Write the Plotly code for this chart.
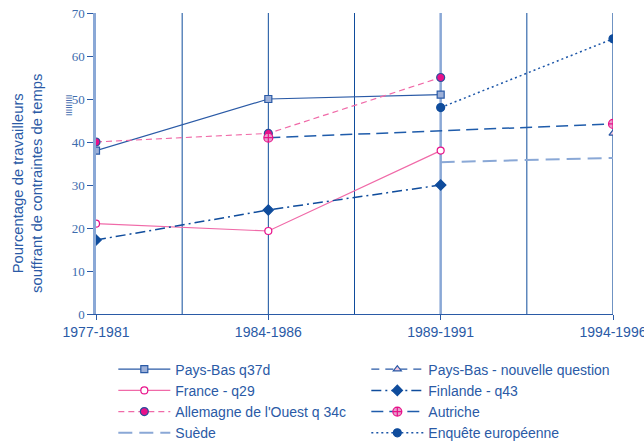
import plotly.graph_objects as go

periods = ["1977-1981", "1984-1986", "1989-1991", "1994-1996"]
xpos = [0, 1, 2, 3]

pays_bas_q37d = [38, 50, 51, None]
pays_bas_nouvelle = [None, None, None, 42]
france_q29 = [21, 19.3, 38, None]
finlande_q43 = [17.2, 24.2, 30, None]
allemagne_q34c = [40, 42, 55, None]
autriche = [None, 41, None, 44.2]
suede = [None, None, 35.3, 36.3]
enquete_europeenne = [None, None, 48, 64]

y_title = "Pourcentage de travailleurs<br>souffrant de contraintes de temps"

BLUE = "#2a5aa6"
DARK = "#0f4c9c"
LIGHT = "#8aa8d6"
PINK = "#f06aa8"
MAGENTA = "#e8118a"

fig = go.Figure()

def add(name, y, color, dash, symbol, msize, mfill, mline, width=1.2, connect=False, mode="lines+markers"):
    fig.add_trace(go.Scatter(
        x=xpos, y=y, name=name, mode=mode, connectgaps=connect,
        line=dict(color=color, dash=dash, width=width),
        marker=dict(symbol=symbol, size=msize, color=mfill, line=dict(color=mline, width=1.2)),
    ))

# row-major legend order
add("Pays-Bas q37d", pays_bas_q37d, BLUE, "solid", "square", 7, "#9db0d8", BLUE)
add("Pays-Bas - nouvelle question", pays_bas_nouvelle, BLUE, "8px,6px", "triangle-up", 7, "#f4c6dc", BLUE)
add("France - q29", france_q29, PINK, "solid", "circle", 7, "white", MAGENTA)
add("Finlande - q43", finlande_q43, DARK, "10px,4px,2px,4px", "diamond", 8, DARK, DARK, 1.5)
add("Allemagne de l'Ouest q 34c", allemagne_q34c, PINK, "6px,4px", "circle", 8, MAGENTA, "#2a4f9c")
add("Autriche", autriche, "#1f5cab", "12px,6px", "circle-cross", 9, "#e6a0cc", MAGENTA, 1.5, True)
add("Suède", suede, LIGHT, "14px,7px", "circle", 1, LIGHT, LIGHT, 2, mode="lines")
add("Enquête européenne", enquete_europeenne, "#1c56a8", "2px,3px", "circle", 8, DARK, DARK, 1.5)

# vertical reference lines
for xv, col, w in [(0.5, DARK, 1), (1, DARK, 1), (1.5, DARK, 1), (2, LIGHT, 2.5), (2.5, DARK, 1), (3, DARK, 1.2)]:
    fig.add_shape(type="line", xref="x", yref="y", x0=xv, x1=xv, y0=0, y1=70,
                  line=dict(color=col, width=w), layer="below")

fig.add_annotation(text=y_title, xref="paper", yref="paper", x=-0.1315, y=0.432,
                   xanchor="center", yanchor="middle", textangle=-90, showarrow=False,
                   font=dict(size=14.8, color=BLUE))

fig.add_annotation(text="IIIIIIIII", xref="paper", yref="y", x=-0.066, y=48.6,
                   textangle=-90, showarrow=False, font=dict(size=8.5, color=BLUE, family="Liberation Sans"))

fig.update_layout(
    width=644, height=448,
    margin=dict(l=96, r=31, t=13, b=134, autoexpand=False),
    paper_bgcolor="white", plot_bgcolor="white",
    font=dict(family="Liberation Sans, Arial, sans-serif", color=BLUE, size=14),
    xaxis=dict(range=[0, 3], tickvals=xpos, ticktext=periods, showgrid=False, zeroline=False,
               showline=True, linecolor=BLUE, linewidth=1, ticks="outside", ticklen=5,
               tickcolor=BLUE, tickfont=dict(size=14, color=BLUE), automargin=False,
               ticklabeloverflow="allow"),
    yaxis=dict(range=[0, 70], dtick=10, showgrid=False, zeroline=False, showline=True,
               linecolor=LIGHT, linewidth=2.5, ticks="outside", ticklen=6, tickcolor=BLUE,
               tickfont=dict(family="Liberation Serif, Times New Roman, serif", size=13, color="#3d6cad"),
               automargin=False, ticklabeloverflow="allow"),
    legend=dict(orientation="h", x=0.0335, xanchor="left", y=-0.1316, yanchor="top",
                entrywidth=186, itemwidth=52, font=dict(size=14, color=BLUE),
                bgcolor="rgba(0,0,0,0)", tracegroupgap=0),
    showlegend=True,
)

fig.write_html("out.html", config={"displayModeBar": False},
               post_script="document.body.style.margin='0';document.body.style.overflow='hidden';")
